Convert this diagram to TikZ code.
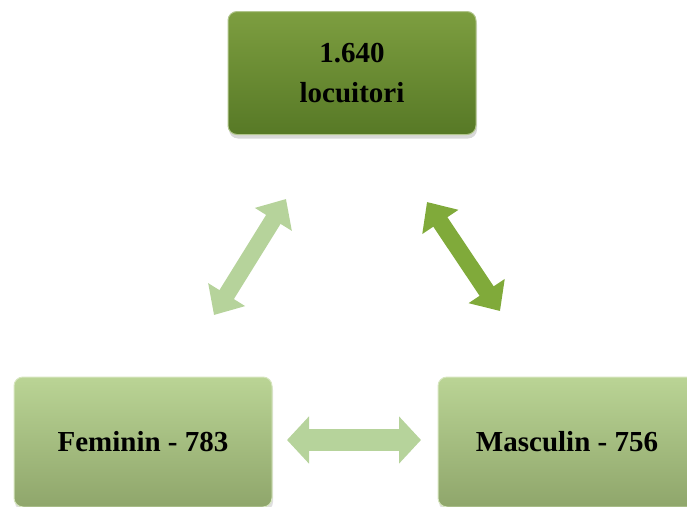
\documentclass[tikz,border=0pt]{standalone}
\usepackage{fontspec}
\setmainfont{Liberation Serif}
\usetikzlibrary{arrows.meta,shadows}
\definecolor{oliveTop}{HTML}{7D9E40}
\definecolor{oliveBot}{HTML}{577926}
\definecolor{sageTop}{HTML}{BAD495}
\definecolor{sageBot}{HTML}{8FA66B}
\definecolor{paleArrow}{HTML}{B6D39B}
\definecolor{leafArrow}{HTML}{80AA3A}
\tikzstyle{total} = [rectangle,rounded corners=9pt,minimum width=248pt,minimum height=123pt,align=center,draw=oliveTop!60!white,line width=1pt,top color=oliveTop,bottom color=oliveBot,font=\fontsize{29}{40}\selectfont\bfseries,drop shadow={opacity=0.3,shadow xshift=1pt,shadow yshift=-4pt}]
\tikzstyle{gender} = [rectangle,rounded corners=9pt,minimum width=258pt,minimum height=130pt,align=center,draw=sageTop!60!white,line width=1pt,top color=sageTop,bottom color=sageBot,font=\fontsize{29}{36}\selectfont\bfseries,drop shadow={opacity=0.25,shadow xshift=1pt,shadow yshift=-4pt}]
\tikzstyle{palearrow} = [line width=17pt,draw=paleArrow,{Triangle[width=42pt,length=24pt]}-{Triangle[width=42pt,length=24pt]}]
\tikzstyle{leafarrow} = [line width=17pt,draw=leafArrow,{Triangle[width=42pt,length=24pt]}-{Triangle[width=42pt,length=24pt]}]

\begin{document}
\begin{tikzpicture}[x=1pt,y=-1pt]
\useasboundingbox (0,0) rectangle (687,506);

\node (total) [total] at (352,73) {1.640\\locuitori};
\node (fem) [gender] at (143,442) {Feminin - 783};
\node (masc) [gender] at (567,442) {Masculin - 756};

\coordinate (femup) at (214,315);
\coordinate (totleft) at (286,199);
\coordinate (totright) at (427,202);
\coordinate (mascup) at (500,311);
\coordinate (femright) at (287,440);
\coordinate (mascleft) at (421,440);

\draw [palearrow] (femup) -- (totleft);
\draw [leafarrow] (totright) -- (mascup);
\draw [palearrow,line width=22pt,{Triangle[width=46pt,length=22pt]}-{Triangle[width=46pt,length=22pt]}] (femright) -- (mascleft);

\end{tikzpicture}
\end{document}
